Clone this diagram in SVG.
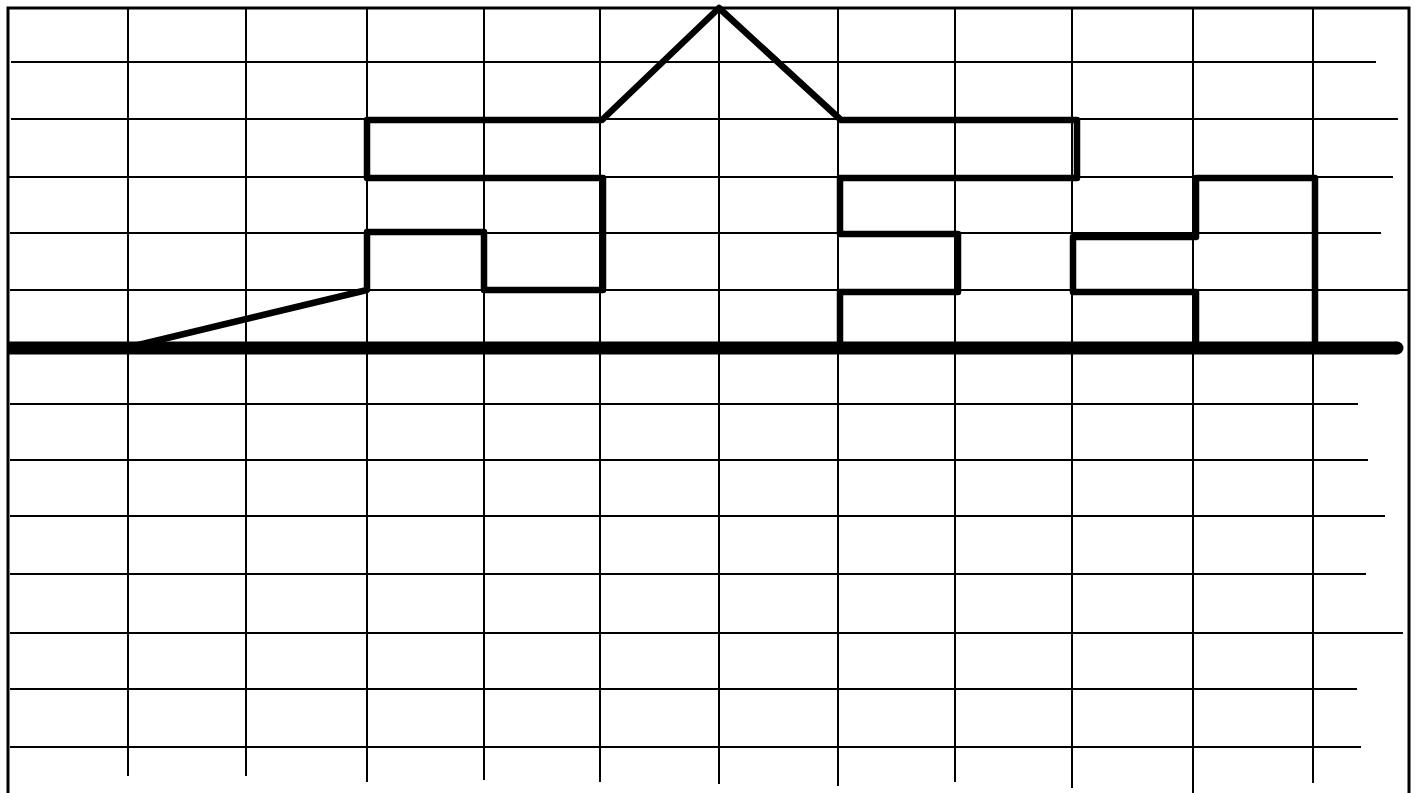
<svg xmlns="http://www.w3.org/2000/svg" width="1426" height="793" viewBox="0 0 1426 793">
<style>
.g{stroke:#000;stroke-width:2;fill:none}
.b{stroke:#000;stroke-width:3;fill:none}
.h{stroke:#000;stroke-width:6.5;fill:none;stroke-linejoin:round;stroke-linecap:round}
.base{stroke:#000;stroke-width:13;fill:none;stroke-linecap:butt}
</style>
<rect width="1426" height="793" fill="#fff"/>
<g id="grid">
<line class="g" x1="128" y1="8" x2="128" y2="776"/>
<line class="g" x1="246" y1="8" x2="246" y2="776"/>
<line class="g" x1="367" y1="8" x2="367" y2="782"/>
<line class="g" x1="484" y1="8" x2="484" y2="780"/>
<line class="g" x1="600" y1="8" x2="600" y2="782"/>
<line class="g" x1="719" y1="8" x2="719" y2="784"/>
<line class="g" x1="838" y1="8" x2="838" y2="786"/>
<line class="g" x1="955" y1="8" x2="955" y2="782"/>
<line class="g" x1="1072" y1="8" x2="1072" y2="788"/>
<line class="g" x1="1193" y1="8" x2="1193" y2="793"/>
<line class="g" x1="1313" y1="8" x2="1313" y2="783"/>
<line class="g" x1="11" y1="62" x2="1376" y2="62"/>
<line class="g" x1="11" y1="119" x2="1398" y2="119"/>
<line class="g" x1="8" y1="177" x2="1393" y2="177"/>
<line class="g" x1="10" y1="233" x2="1381" y2="233"/>
<line class="g" x1="10" y1="290" x2="1408" y2="290"/>
<line class="g" x1="10" y1="404" x2="1358" y2="404"/>
<line class="g" x1="10" y1="460" x2="1368" y2="460"/>
<line class="g" x1="10" y1="516" x2="1385" y2="516"/>
<line class="g" x1="10" y1="574" x2="1366" y2="574"/>
<line class="g" x1="10" y1="633" x2="1403" y2="633"/>
<line class="g" x1="10" y1="689" x2="1357" y2="689"/>
<line class="g" x1="10" y1="747" x2="1361" y2="747"/>
</g>
<g id="frame">
<polyline class="b" points="8,793 8,8 1409,8 1409,793"/>
</g>
<g id="baseline">
<line class="base" x1="7" y1="348" x2="1397" y2="348"/>
<circle cx="1397" cy="348" r="6.5" fill="#000"/>
</g>
<g id="outline-left">
<polyline class="h" points="130,347 367,290 367,232 484,232 484,290 603,290 603,178 367,178 367,120 602,120 719,8 841,120 1077,120 1077,178 840,178 840,234 958,234 958,292 840,292 840,347"/>
</g>
<g id="outline-right">
<polyline class="h" points="1196,347 1196,292 1073,292 1073,237 1196,237 1196,178 1315,178 1315,347"/>
</g>
</svg>
